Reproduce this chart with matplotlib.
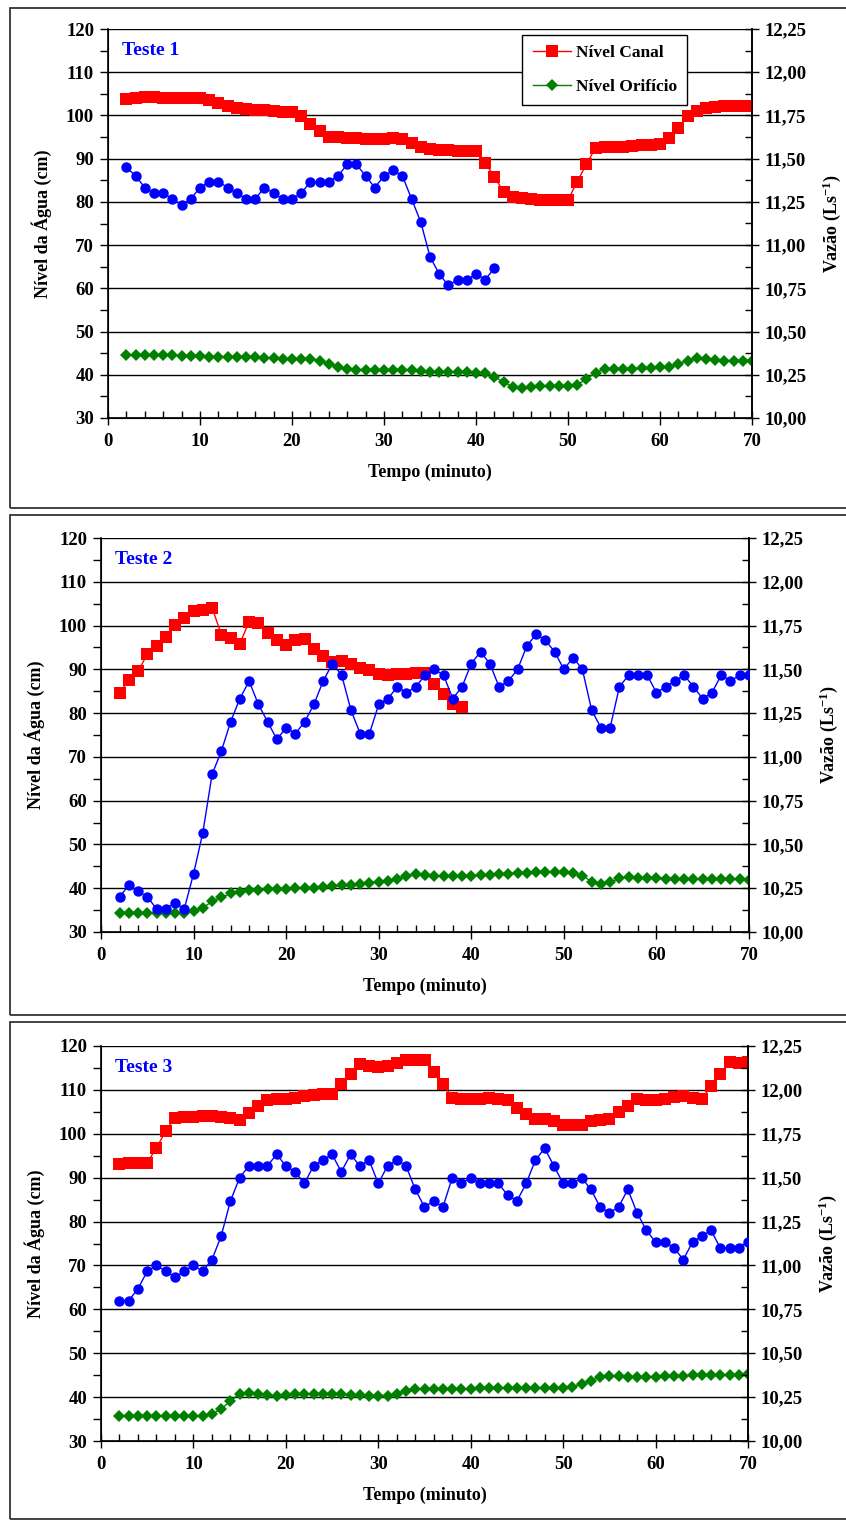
import matplotlib
matplotlib.use("Agg")
import matplotlib.pyplot as plt
from matplotlib.ticker import MultipleLocator, FuncFormatter
from matplotlib.patches import Rectangle

plt.rcParams['font.family'] = ['Liberation Serif', 'DejaVu Serif']
plt.rcParams['font.weight'] = 'bold'
plt.rcParams['mathtext.fontset'] = 'custom'
plt.rcParams['mathtext.rm'] = 'Liberation Serif:bold'
plt.rcParams['mathtext.bf'] = 'Liberation Serif:bold'
plt.rcParams['mathtext.default'] = 'bf'

tempo = list(range(2, 71))

# ---------------- Teste 1 ----------------
canal1 = [103.8, 104.0, 104.2, 104.2, 104.1, 104.1, 104.0, 104.0, 104.0, 103.5,
          102.8, 102.1, 101.7, 101.5, 101.3, 101.2, 101.0, 100.9, 100.7, 99.8,
          98.0, 96.3, 95.1, 94.9, 94.8, 94.7, 94.6, 94.5, 94.5, 94.8,
          94.6, 93.7, 92.8, 92.3, 92.1, 92.0, 91.8, 91.7, 91.7, 89.0,
          85.8, 82.3, 81.2, 80.9, 80.7, 80.5, 80.4, 80.4, 80.4, 84.7,
          88.7, 92.5, 92.6, 92.7, 92.8, 93.0, 93.1, 93.2, 93.3, 94.8,
          97.0, 99.8, 101.0, 101.7, 102.0, 102.1, 102.2, 102.2, 102.2]
orif1 = [44.5, 44.5, 44.5, 44.5, 44.5, 44.5, 44.4, 44.4, 44.3, 44.2,
         44.1, 44.1, 44.1, 44.0, 44.0, 43.9, 43.8, 43.7, 43.7, 43.6,
         43.6, 43.3, 42.6, 41.9, 41.4, 41.2, 41.2, 41.2, 41.2, 41.2,
         41.1, 41.0, 40.8, 40.7, 40.7, 40.6, 40.6, 40.6, 40.5, 40.5,
         39.5, 38.3, 37.2, 36.9, 37.1, 37.3, 37.3, 37.3, 37.3, 37.7,
         39.0, 40.5, 41.4, 41.4, 41.4, 41.4, 41.5, 41.6, 41.7, 41.9,
         42.5, 43.3, 43.8, 43.7, 43.4, 43.3, 43.3, 43.3, 43.3]
vazao1 = [11.45, 11.40, 11.333, 11.30, 11.30, 11.267, 11.233, 11.267, 11.333, 11.367,
          11.367, 11.333, 11.30, 11.267, 11.267, 11.333, 11.30, 11.267, 11.267, 11.30,
          11.367, 11.367, 11.367, 11.40, 11.467, 11.467, 11.40, 11.333, 11.40, 11.433,
          11.40, 11.267, 11.133, 10.933, 10.833, 10.767, 10.80, 10.80, 10.833, 10.80,
          10.867]

# ---------------- Teste 2 ----------------
canal2 = [84.6, 87.5, 89.6, 93.4, 95.3, 97.3, 100.2, 101.8, 103.3, 103.5,
          104.1, 97.9, 97.1, 95.9, 100.9, 100.5, 98.2, 96.6, 95.5, 96.6,
          96.9, 94.7, 93.0, 91.7, 91.8, 91.3, 90.4, 89.8, 89.0, 88.6,
          88.9, 89.0, 89.2, 89.2, 86.7, 84.4, 82.1, 81.4]
orif2 = [34.4, 34.4, 34.4, 34.4, 34.4, 34.4, 34.4, 34.4, 34.7, 35.5,
         37.0, 37.9, 38.8, 39.2, 39.5, 39.6, 39.8, 39.85, 39.9, 40.0,
         40.1, 40.15, 40.3, 40.45, 40.7, 40.8, 41.05, 41.3, 41.5, 41.7,
         42.1, 42.7, 43.3, 43.1, 42.9, 42.7, 42.7, 42.9, 42.9, 43.0,
         43.1, 43.2, 43.3, 43.45, 43.5, 43.6, 43.6, 43.7, 43.6, 43.45,
         42.9, 41.5, 41.0, 41.35, 42.25, 42.55, 42.4, 42.35, 42.3, 42.2,
         42.2, 42.2, 42.1, 42.1, 42.05, 42.0, 42.0, 42.0, 41.95]
vazao2 = [10.20, 10.267, 10.233, 10.20, 10.133, 10.133, 10.167, 10.133, 10.333, 10.567,
          10.90, 11.033, 11.20, 11.333, 11.433, 11.30, 11.20, 11.10, 11.167, 11.133,
          11.20, 11.30, 11.433, 11.533, 11.467, 11.267, 11.133, 11.133, 11.30, 11.333,
          11.40, 11.367, 11.40, 11.467, 11.50, 11.467, 11.333, 11.40, 11.533, 11.60,
          11.533, 11.40, 11.433, 11.50, 11.633, 11.70, 11.667, 11.60, 11.50, 11.567,
          11.50, 11.267, 11.167, 11.167, 11.40, 11.467, 11.467, 11.467, 11.367, 11.40,
          11.433, 11.467, 11.40, 11.333, 11.367, 11.467, 11.433, 11.467, 11.467]

# ---------------- Teste 3 ----------------
canal3 = [93.1, 93.3, 93.3, 93.4, 96.8, 100.6, 103.7, 103.8, 103.8, 104.0,
          104.1, 103.9, 103.5, 103.2, 104.8, 106.4, 107.7, 107.9, 107.9, 108.2,
          108.6, 108.9, 109.0, 109.0, 111.3, 113.6, 116.0, 115.5, 115.2, 115.5,
          116.2, 116.7, 116.8, 116.8, 114.1, 111.4, 108.2, 107.9, 107.9, 108.0,
          108.2, 108.0, 107.8, 105.9, 104.6, 103.3, 103.4, 102.9, 102.1, 101.9,
          102.1, 102.9, 103.1, 103.3, 104.9, 106.4, 108.0, 107.7, 107.8, 108.0,
          108.4, 108.5, 108.2, 108.0, 110.8, 113.6, 116.3, 116.1, 116.4]
orif3 = [35.7, 35.7, 35.7, 35.7, 35.7, 35.7, 35.7, 35.7, 35.7, 35.7,
         36.1, 37.3, 39.1, 40.8, 41.0, 40.6, 40.4, 40.2, 40.4, 40.6,
         40.7, 40.7, 40.6, 40.6, 40.6, 40.5, 40.4, 40.3, 40.3, 40.2,
         40.8, 41.45, 41.8, 41.8, 41.8, 41.8, 41.8, 41.9, 41.9, 42.0,
         42.0, 42.0, 42.0, 42.1, 42.1, 42.1, 42.1, 42.1, 42.1, 42.4,
         43.0, 43.7, 44.6, 44.7, 44.7, 44.6, 44.6, 44.6, 44.6, 44.7,
         44.7, 44.8, 45.0, 45.1, 45.0, 45.0, 45.0, 45.1, 45.2]
vazao3 = [10.80, 10.80, 10.867, 10.967, 11.00, 10.967, 10.933, 10.967, 11.00, 10.967,
          11.033, 11.167, 11.367, 11.50, 11.567, 11.567, 11.567, 11.633, 11.567, 11.533,
          11.467, 11.567, 11.60, 11.633, 11.533, 11.633, 11.567, 11.60, 11.467, 11.567,
          11.60, 11.567, 11.433, 11.333, 11.367, 11.333, 11.50, 11.467, 11.50, 11.467,
          11.467, 11.467, 11.40, 11.367, 11.467, 11.60, 11.667, 11.567, 11.467, 11.467,
          11.50, 11.433, 11.333, 11.30, 11.333, 11.433, 11.30, 11.20, 11.133, 11.133,
          11.10, 11.033, 11.133, 11.167, 11.20, 11.10, 11.10, 11.10, 11.133]

titulos = ['Teste 1', 'Teste 2', 'Teste 3']
dados = [(canal1, orif1, vazao1), (canal2, orif2, vazao2), (canal3, orif3, vazao3)]

W, H = 846, 1520
fig = plt.figure(figsize=(W / 100, H / 100), dpi=100)

# axes pixel boxes: left, right, top, bottom
boxes = [(108, 752, 29, 418), (101, 749, 538, 932), (101, 748, 1046, 1441)]
frames = [(8, 508), (515, 1015), (1022, 1519)]

for (ft, fb) in frames:
    fig.patches.append(Rectangle((10 / W, 1 - fb / H), 1.2, (fb - ft) / H,
                                 transform=fig.transFigure, fill=False,
                                 edgecolor='#333333', linewidth=1.3))

comma = FuncFormatter(lambda v, p: f"{v:.2f}".replace('.', ','))

for i, ((l, r, t, b), (canal, orif, vaz)) in enumerate(zip(boxes, dados)):
    ax = fig.add_axes([l / W, 1 - b / H, (r - l) / W, (b - t) / H])
    ax.plot(tempo[:len(canal)], canal, color='#ff0000', marker='s', ms=8.8,
            mew=0, lw=1, label='Nível Canal', zorder=3)
    ax.plot(tempo[:len(orif)], orif, color='#008000', marker='D', ms=6.5,
            mew=0, lw=1, label='Nível Orifício', zorder=3)
    ax.set_xlim(0, 70)
    ax.set_ylim(30, 120)
    ax.xaxis.set_major_locator(MultipleLocator(10))
    ax.xaxis.set_minor_locator(MultipleLocator(2))
    ax.yaxis.set_major_locator(MultipleLocator(10))
    ax.yaxis.set_minor_locator(MultipleLocator(5))
    ax.grid(axis='y', which='major', color='#000000', linewidth=1.0)
    ax.set_axisbelow(True)
    ax.spines['top'].set_visible(False)
    for s in ['left', 'bottom', 'right']:
        ax.spines[s].set_linewidth(1.2)
    ax.tick_params(axis='y', which='major', direction='out', length=6, width=1,
                   labelsize=13.5, pad=4)
    ax.tick_params(axis='y', which='minor', direction='out', length=6, width=1)
    ax.tick_params(axis='x', which='major', direction='inout', length=10, width=1,
                   labelsize=13.5, pad=6)
    ax.tick_params(axis='x', which='minor', direction='in', length=5, width=1)
    ax.set_xlabel('Tempo (minuto)', fontsize=13, fontweight='bold', labelpad=10)
    ax.set_ylabel('Nível da Água (cm)', fontsize=13, fontweight='bold', labelpad=10)
    ax.text(0.022, 0.945, titulos[i], transform=ax.transAxes, color='#0000ff',
            fontsize=14, fontweight='bold', va='center', ha='left')

    ax2 = ax.twinx()
    ax2.plot(tempo[:len(vaz)], vaz, color='#0000ff', marker='o', ms=7.5, mew=0,
             lw=1, zorder=3)
    ax2.set_ylim(10.0, 12.25)
    ax2.yaxis.set_major_locator(MultipleLocator(0.25))
    ax2.yaxis.set_minor_locator(MultipleLocator(0.125))
    ax2.yaxis.set_major_formatter(comma)
    ax2.spines['top'].set_visible(False)
    ax2.spines['right'].set_linewidth(1.2)
    ax2.tick_params(axis='y', which='major', direction='inout', length=10, width=1,
                    labelsize=13.5, pad=4)
    ax2.tick_params(axis='y', which='minor', direction='in', length=5, width=1)
    ax2.set_ylabel('Vazão (Ls$^{-1}$)', fontsize=13, fontweight='bold',
                   labelpad=10)

    if i == 0:
        leg = ax.legend(loc='upper left', bbox_to_anchor=(0.643, 0.985),
                        prop={'size': 12.5, 'weight': 'bold'}, fancybox=False,
                        edgecolor='#000000', framealpha=1, labelspacing=1.0,
                        handlelength=2.2, borderpad=0.6, handletextpad=0.3,
                        borderaxespad=0.0)
        leg.get_frame().set_linewidth(1.0)
        leg.set_zorder(10)

fig.savefig('out.png', dpi=100)
